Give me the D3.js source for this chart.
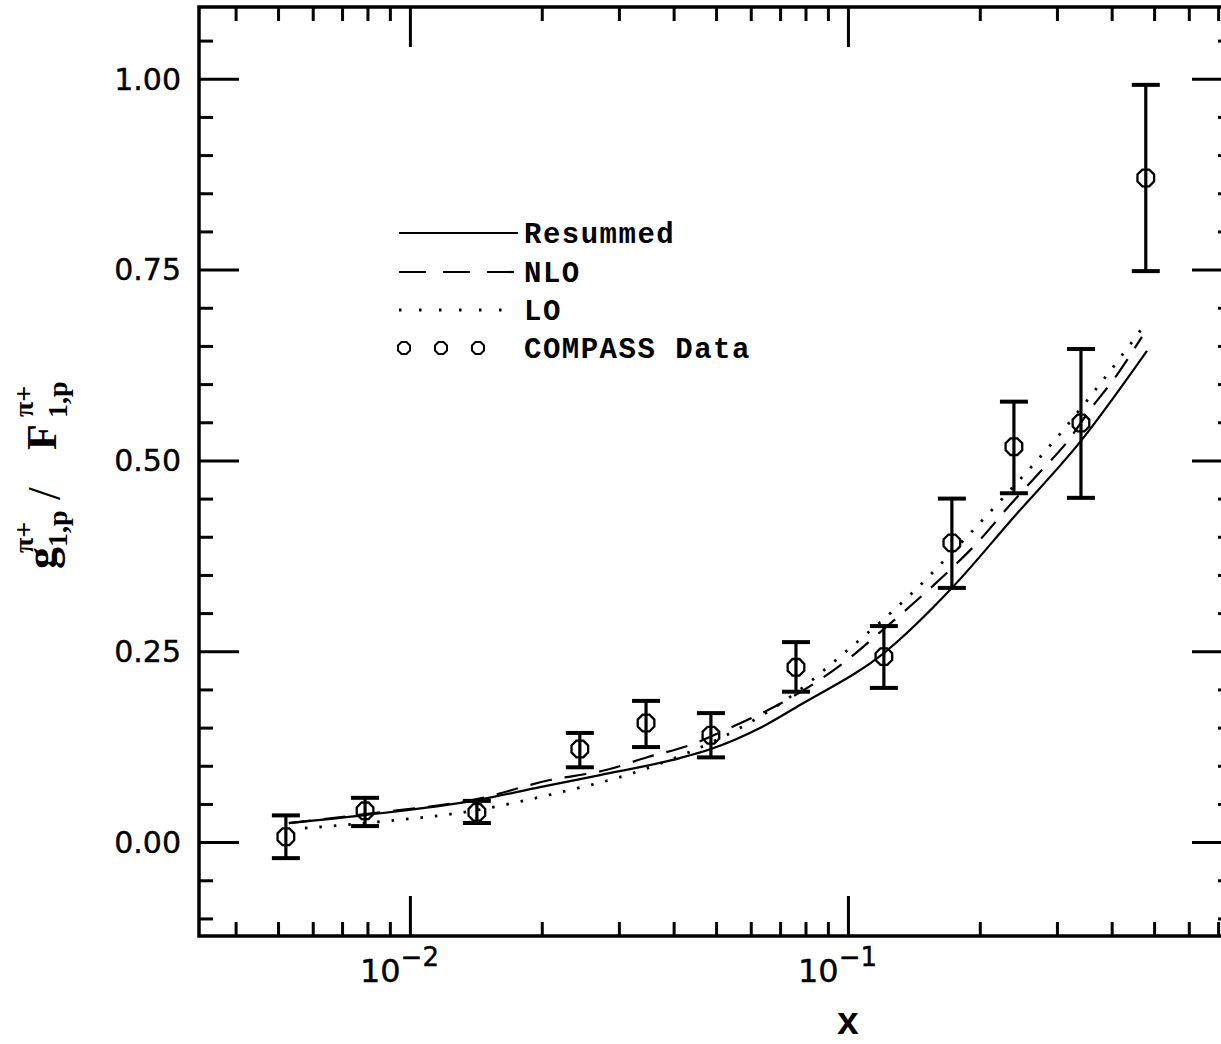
<!DOCTYPE html>
<html>
<head>
<meta charset="utf-8">
<script src="https://cdn.jsdelivr.net/npm/d3@7"></script>
<style>
  html, body { margin: 0; padding: 0; background: #fff; overflow: hidden; }
</style>
</head>
<body>
<div id="chart"></div>
<script>
// COMPASS data points
const dataX = [0.00521, 0.00790, 0.01422, 0.02443, 0.0346, 0.04866, 0.0761, 0.1208, 0.1727, 0.2393, 0.3404, 0.4786];
const dataY = [0.007, 0.041, 0.039, 0.122, 0.156, 0.140, 0.229, 0.243, 0.392, 0.518, 0.549, 0.870];
const dataHi = [0.035, 0.058, 0.054, 0.143, 0.185, 0.169, 0.262, 0.283, 0.450, 0.577, 0.646, 0.992];
const dataLo = [-0.021, 0.021, 0.025, 0.098, 0.1245, 0.111, 0.197, 0.202, 0.333, 0.457, 0.451, 0.748];

// theory curves
const resumX = [0.005292, 0.0079, 0.01422, 0.01981, 0.02716, 0.04134, 0.04866, 0.06296, 0.07772, 0.1208, 0.1727, 0.2393, 0.3404, 0.4816];
const resumY = [0.0249, 0.0354, 0.0550, 0.0721, 0.0878, 0.1101, 0.1219, 0.1494, 0.1796, 0.2477, 0.3329, 0.4259, 0.5256, 0.6435];

const nloX = [0.005292, 0.0079, 0.01422, 0.02088, 0.02803, 0.03495, 0.04359, 0.05493, 0.06707, 0.09895, 0.1208, 0.1422, 0.1691, 0.2001, 0.2344, 0.2745, 0.3179, 0.3569, 0.4113, 0.4690];
const nloY = [0.0249, 0.0367, 0.0564, 0.0813, 0.0944, 0.1114, 0.1271, 0.1520, 0.1756, 0.2372, 0.2792, 0.3145, 0.3539, 0.3958, 0.4417, 0.4849, 0.5256, 0.5662, 0.6121, 0.6619];

const loX = [0.005759, 0.0079, 0.01422, 0.02165, 0.03228, 0.04289, 0.05667, 0.07373, 0.1011, 0.1371, 0.1821, 0.2259, 0.2969, 0.3842, 0.4796];
const loY = [0.0183, 0.0249, 0.0419, 0.0642, 0.0904, 0.1166, 0.1494, 0.1900, 0.2543, 0.3211, 0.3932, 0.4509, 0.5269, 0.6068, 0.6802];

// axes
const yMajor = [0, 0.25, 0.5, 0.75, 1.0];
const yLabels = ['0.00', '0.25', '0.50', '0.75', '1.00'];
const xMajor = [0.01, 0.1];
const xExponents = ['\u22122', '\u22121'];
const xMinor = [0.004, 0.005, 0.006, 0.007, 0.008, 0.009, 0.02, 0.03, 0.04, 0.05, 0.06, 0.07, 0.08, 0.09, 0.2, 0.3, 0.4, 0.5, 0.6, 0.7];

// legend
const legendNames = ['Resummed', 'NLO', 'LO', 'COMPASS Data'];

const width = 1221;
const height = 1044;
const frame = { left: 199, right: 1232, top: 7, bottom: 936 };

const x = d3.scaleLog()
  .domain([0.0033, 0.753])
  .range([frame.left, frame.right]);

const y = d3.scaleLinear()
  .domain([-0.123, 1.094])
  .range([frame.bottom, frame.top]);

const yMinor = d3.range(-0.1, 1.09, 0.05).filter(v => !yMajor.some(m => Math.abs(m - v) < 1e-6));

const svg = d3.select('#chart')
  .append('svg')
  .attr('width', width)
  .attr('height', height);

const bigTick = 40;
const smallTick = 14;

// draws one set of ticks with no domain line
function ticks(axis, values, size, transform) {
  svg.append('g')
    .attr('transform', transform)
    .call(axis.tickValues(values).tickSizeInner(-size).tickSizeOuter(0).tickFormat(''))
    .call(g => g.select('.domain').remove());
}

ticks(d3.axisBottom(x), xMajor, bigTick, `translate(0,${frame.bottom})`);
ticks(d3.axisBottom(x), xMinor, smallTick, `translate(0,${frame.bottom})`);
ticks(d3.axisTop(x), xMajor, bigTick, `translate(0,${frame.top})`);
ticks(d3.axisTop(x), xMinor, smallTick, `translate(0,${frame.top})`);
ticks(d3.axisLeft(y), yMajor, bigTick, `translate(${frame.left},0)`);
ticks(d3.axisLeft(y), yMinor, smallTick, `translate(${frame.left},0)`);
ticks(d3.axisRight(y), yMajor, bigTick, `translate(${frame.right},0)`);
ticks(d3.axisRight(y), yMinor, smallTick, `translate(${frame.right},0)`);

svg.selectAll('.tick line')
  .attr('stroke', '#000')
  .attr('stroke-width', 3);

// frame
svg.append('rect')
  .attr('x', frame.left)
  .attr('y', frame.top)
  .attr('width', frame.right - frame.left)
  .attr('height', frame.bottom - frame.top)
  .attr('fill', 'none')
  .attr('stroke', '#000')
  .attr('stroke-width', 3.5);

// y tick labels
svg.append('g')
  .selectAll('text')
  .data(yMajor)
  .enter()
  .append('text')
  .attr('x', 181)
  .attr('y', d => y(d))
  .attr('dy', '0.36em')
  .attr('text-anchor', 'end')
  .attr('font-family', 'DejaVu Sans')
  .attr('font-size', 30)
  .attr('stroke', '#000')
  .attr('stroke-width', 0.4)
  .text((d, i) => yLabels[i]);

// x tick labels 10^n
const xl = svg.append('g')
  .selectAll('text')
  .data(xMajor)
  .enter()
  .append('text')
  .attr('x', d => x(d) - 50)
  .attr('y', 982)
  .attr('font-family', 'DejaVu Sans')
  .attr('font-size', 32)
  .attr('stroke', '#000')
  .attr('stroke-width', 0.4);
xl.append('tspan').text('10');
xl.append('tspan')
  .attr('dy', -16)
  .attr('font-size', 26)
  .text((d, i) => xExponents[i]);

// axis titles
svg.append('text')
  .attr('x', x(0.1))
  .attr('y', 1034)
  .attr('text-anchor', 'middle')
  .attr('font-family', 'Liberation Mono')
  .attr('font-weight', 'bold')
  .attr('font-size', 38)
  .text('x');

const yt = svg.append('g')
  .attr('transform', 'rotate(-90)')
  .attr('font-family', 'Liberation Serif')
  .attr('font-weight', 'bold')
  .attr('fill', '#000');
yt.append('text').attr('x', -569).attr('y', 56).attr('font-size', 44).text('g');
yt.append('text').attr('x', -553).attr('y', 33).attr('font-size', 28).text('\u03c0+');
yt.append('text').attr('x', -547).attr('y', 67).attr('font-size', 28).text('1,p');
yt.append('text').attr('x', -500).attr('y', 60).attr('font-size', 46).attr('font-weight', 'normal').text('/');
yt.append('text').attr('x', -450).attr('y', 56).attr('font-size', 42).text('F');
yt.append('text').attr('x', -417).attr('y', 33).attr('font-size', 28).text('\u03c0+');
yt.append('text').attr('x', -418).attr('y', 67).attr('font-size', 28).text('1,p');

// curves
const line = d3.line()
  .curve(d3.curveMonotoneX)
  .x(d => x(d[0]))
  .y(d => y(d[1]));

const curves = [
  { xs: resumX, ys: resumY, dash: null, width: 2.2 },
  { xs: nloX, ys: nloY, dash: '22,13', width: 2.2 },
  { xs: loX, ys: loY, dash: '2.5,12', width: 2.8 },
];

curves.forEach((c) => {
  svg.append('path')
    .datum(c.xs.map((v, i) => [v, c.ys[i]]))
    .attr('fill', 'none')
    .attr('stroke', '#000')
    .attr('stroke-width', c.width)
    .attr('stroke-dasharray', c.dash)
    .attr('d', line);
});

// data with error bars
const octagon = (cx, cy, r) => {
  const pts = d3.range(8).map(k => {
    const a = Math.PI / 8 + k * Math.PI / 4;
    return [cx + r * Math.cos(a), cy + r * Math.sin(a)];
  });
  return `M${pts.join('L')}Z`;
};

const points = dataX.map((v, i) => ({ x: v, y: dataY[i], hi: dataHi[i], lo: dataLo[i] }));
const capW = 14;

const pg = svg.append('g').attr('stroke', '#000').attr('fill', 'none');

pg.selectAll('.bar')
  .data(points)
  .enter()
  .append('line')
  .attr('x1', d => x(d.x))
  .attr('x2', d => x(d.x))
  .attr('y1', d => y(d.hi))
  .attr('y2', d => y(d.lo))
  .attr('stroke-width', 3.2);

pg.selectAll('.capHi')
  .data(points)
  .enter()
  .append('line')
  .attr('x1', d => x(d.x) - capW)
  .attr('x2', d => x(d.x) + capW)
  .attr('y1', d => y(d.hi))
  .attr('y2', d => y(d.hi))
  .attr('stroke-width', 4);

pg.selectAll('.capLo')
  .data(points)
  .enter()
  .append('line')
  .attr('x1', d => x(d.x) - capW)
  .attr('x2', d => x(d.x) + capW)
  .attr('y1', d => y(d.lo))
  .attr('y2', d => y(d.lo))
  .attr('stroke-width', 4);

pg.selectAll('.pt')
  .data(points)
  .enter()
  .append('path')
  .attr('d', d => octagon(x(d.x), y(d.y), 9))
  .attr('stroke-width', 2.3);

// legend
const legend = svg.append('g');
const legX0 = 399;
const legX1 = 518;
const rowY = [233, 272, 310, 348];

legend.selectAll('text')
  .data(legendNames)
  .enter()
  .append('text')
  .attr('x', 524)
  .attr('y', (d, i) => rowY[i] + 10)
  .attr('font-family', 'Liberation Mono')
  .attr('font-weight', 'bold')
  .attr('font-size', 29)
  .attr('letter-spacing', 1.5)
  .text(d => d);

curves.forEach((c, i) => {
  legend.append('line')
    .attr('x1', legX0)
    .attr('x2', legX1)
    .attr('y1', rowY[i])
    .attr('y2', rowY[i])
    .attr('stroke', '#000')
    .attr('stroke-width', c.width)
    .attr('stroke-dasharray', i === 1 ? '27,17' : (i === 2 ? '2.5,17.5' : null));
});

[404, 441, 478].forEach((cx) => {
  legend.append('path')
    .attr('d', octagon(cx, rowY[3], 6.5))
    .attr('fill', 'none')
    .attr('stroke', '#000')
    .attr('stroke-width', 2);
});
</script>
</body>
</html>
